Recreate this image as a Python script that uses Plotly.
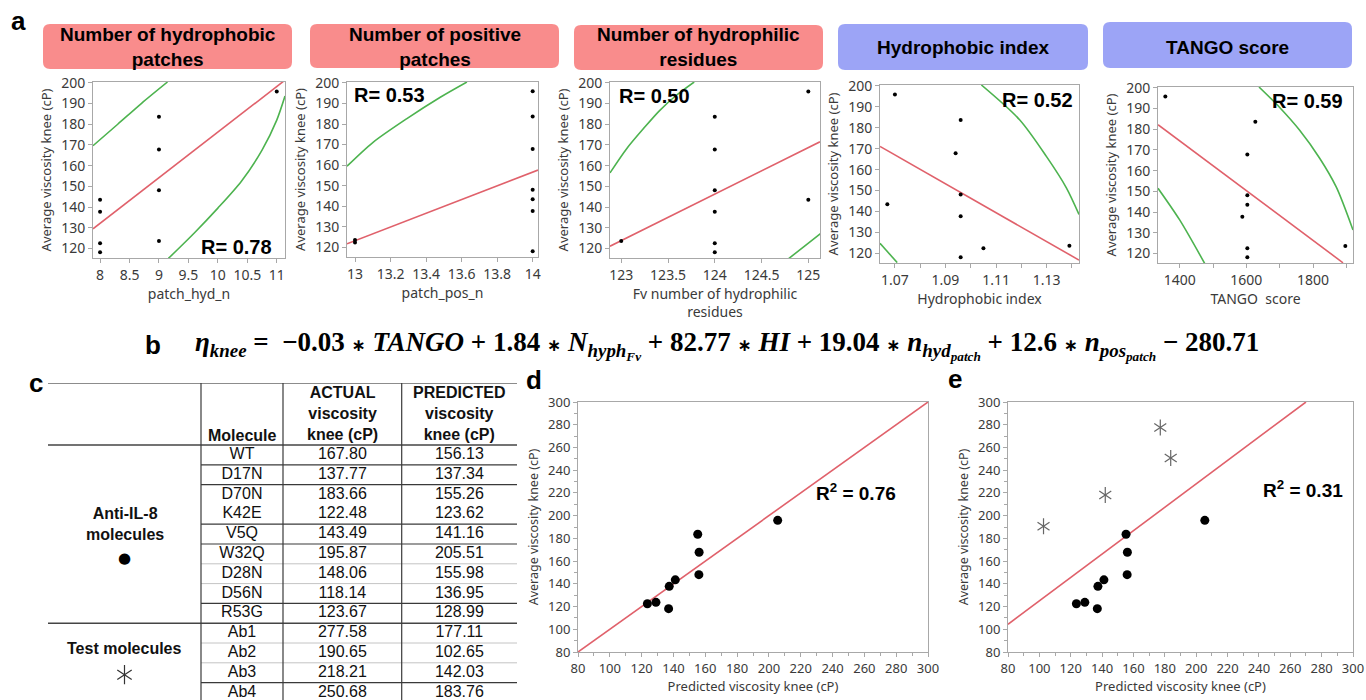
import plotly.graph_objects as go

W, H = 1366, 700

# ---------------- data ----------------
molecules = ["WT", "D17N", "D70N", "K42E", "V5Q", "W32Q", "D28N", "D56N", "R53G"]
actual_knee = [167.80, 137.77, 183.66, 122.48, 143.49, 195.87, 148.06, 118.14, 123.67]
predicted_knee = [156.13, 137.34, 155.26, 123.62, 141.16, 205.51, 155.98, 136.95, 128.99]
test_molecules = ["Ab1", "Ab2", "Ab3", "Ab4"]
test_actual = [277.58, 190.65, 218.21, 250.68]
test_predicted = [177.11, 102.65, 142.03, 183.76]

patch_hyd_n = [9, 8, 9, 8, 8, 11, 9, 8, 9]
patch_pos_n = [14, 14, 14, 13, 14, 14, 14, 14, 13]
fv_hydrophilic = [124, 124, 124, 124, 125, 125, 124, 124, 123]
hydrophobic_index = [1.094, 1.096, 1.096, 1.105, 1.067, 1.070, 1.096, 1.096, 1.139]
tango_score = [1603, 1588, 1627, 1603, 1603, 1357, 1603, 1603, 1897]

# fit lines (red)
fit_hyd_x = [7.88, 11.14]
fit_hyd_y = [129.5, 201.3]
fit_pos_x = [12.955, 14.03]
fit_pos_y = [121.8, 157.6]
fit_phil_x = [122.88, 125.125]
fit_phil_y = [121.1, 171.5]
fit_hi_x = [1.0641, 1.1428]
fit_hi_y = [171.1, 116.8]
fit_tango_x = [1335, 1890]
fit_tango_y = [182.2, 115.5]

# confidence curves (green)
conf_hyd_up_x = [7.88, 8.3, 8.7, 9.145]
conf_hyd_up_y = [169.6, 180.0, 190.0, 200.4]
conf_hyd_lo_x = [9.16, 9.6, 10.0, 10.4, 10.75, 11.0, 11.14]
conf_hyd_lo_y = [115.2, 127.5, 139.5, 152.5, 167.5, 182.0, 193.6]
conf_pos_up_x = [12.955, 13.10, 13.29, 13.48, 13.63]
conf_pos_up_y = [159.5, 171.0, 182.5, 193.0, 200.4]
conf_phil_up_x = [122.88, 123.06, 123.24, 123.41, 123.59, 123.78]
conf_phil_up_y = [156.5, 168.3, 178.0, 186.6, 194.0, 200.4]
conf_phil_lo_x = [124.79, 124.95, 125.13]
conf_phil_lo_y = [115.1, 120.8, 127.2]
conf_hi_up_x = [1.1042, 1.1193, 1.1299, 1.1378, 1.1428]
conf_hi_up_y = [200.4, 183.8, 166.3, 151.3, 138.6]
conf_hi_lo_x = [1.0641, 1.0709]
conf_hi_lo_y = [124.8, 115.6]
conf_tango_up_x = [1638, 1700, 1760, 1820, 1870, 1920]
conf_tango_up_y = [200.4, 190.5, 179.5, 166.0, 152.0, 131.3]
conf_tango_lo_x = [1335, 1400, 1475]
conf_tango_lo_y = [151.5, 136.2, 115.2]

# parity lines (red) in d and e
parity_d_x = [80, 300]
parity_d_y = [80, 300]
parity_e_x = [80, 270]
parity_e_y = [104.4, 300]

panel_titles = ["Number of hydrophobic<br>patches", "Number of positive<br>patches",
                "Number of hydrophilic<br>residues", "Hydrophobic index", "TANGO score"]
x_titles = ["patch_hyd_n", "patch_pos_n", "Fv number of hydrophilic<br>residues",
            "Hydrophobic index", "TANGO  score"]
r_labels = ["R= 0.78", "R= 0.53", "R= 0.50", "R= 0.52", "R= 0.59"]
r2_labels = ["R<sup>2</sup> = 0.76", "R<sup>2</sup> = 0.31"]
y_title = "Average viscosity knee (cP)"
xy_title_de = "Predicted viscosity knee (cP)"

table_header = ["", "Molecule", "ACTUAL<br>viscosity<br>knee (cP)", "PREDICTED<br>viscosity<br>knee (cP)"]
group_labels = ["Anti-IL-8<br>molecules", "Test molecules"]
group_dot = "\u25CF"

# ---------------- style / layout helpers ----------------
PINK = "#F98C8C"
BLUE = "#9CA4F6"
RED = "#E0616B"
GREEN = "#4DB34F"
TICKF = "Noto Sans"
ARIAL = "Liberation Sans, Arial"


def px_x(x):
    return x / W


def px_y(y):
    return 1 - y / H


def ax_style(size=14):
    return dict(showline=True, linecolor="#a8a8a8", linewidth=1, mirror=True,
                ticks="outside", ticklen=4, tickcolor="#a8a8a8", showgrid=False,
                zeroline=False, ticklabeloverflow="allow",
                tickfont=dict(family=TICKF, size=size, color="#3a3a3a"))


fig = go.Figure()

# panel a subplots
a_boxes = [(93, 285, 82, 258), (347, 538, 82, 257), (610, 820, 82, 258),
           (880, 1079, 85, 263), (1158, 1353, 87, 263)]
a_xranges = [[7.88, 11.14], [12.955, 14.03], [122.88, 125.125], [1.0641, 1.1428], [1335, 1920]]
a_xdata = [patch_hyd_n, patch_pos_n, fv_hydrophilic, hydrophobic_index, tango_score]
a_fits = [(fit_hyd_x, fit_hyd_y), (fit_pos_x, fit_pos_y), (fit_phil_x, fit_phil_y),
          (fit_hi_x, fit_hi_y), (fit_tango_x, fit_tango_y)]
a_confs = [[(conf_hyd_up_x, conf_hyd_up_y), (conf_hyd_lo_x, conf_hyd_lo_y)],
           [(conf_pos_up_x, conf_pos_up_y)],
           [(conf_phil_up_x, conf_phil_up_y), (conf_phil_lo_x, conf_phil_lo_y)],
           [(conf_hi_up_x, conf_hi_up_y), (conf_hi_lo_x, conf_hi_lo_y)],
           [(conf_tango_up_x, conf_tango_up_y), (conf_tango_lo_x, conf_tango_lo_y)]]
MINOR_A = dict(ticklen=4, tickcolor="#a8a8a8", ticks="outside", showgrid=False)
a_xticks = [dict(tickvals=[8, 8.5, 9, 9.5, 10, 10.5, 11]),
            dict(tickvals=[13, 13.2, 13.4, 13.6, 13.8, 14]),
            dict(tickvals=[123, 123.5, 124, 124.5, 125]),
            dict(tick0=1.07, dtick=0.02, tickformat=".2f", minor=dict(tick0=1.07, dtick=0.01, **MINOR_A)),
            dict(tick0=1400, dtick=200, minor=dict(tick0=1400, dtick=100, **MINOR_A))]

layout = dict(width=W, height=H, margin=dict(l=0, r=0, t=0, b=0, autoexpand=False),
              paper_bgcolor="white", plot_bgcolor="white", showlegend=False)
shapes = []
annotations = []

for i in range(5):
    n = "" if i == 0 else str(i + 1)
    xa, ya = "x" + n, "y" + n
    x0, x1, y0, y1 = a_boxes[i]
    xs = ax_style(14)
    xs.update(domain=[px_x(x0), px_x(x1)], range=a_xranges[i], anchor=ya,
              title=dict(text=x_titles[i], font=dict(family=TICKF, size=14, color="#3a3a3a"), standoff=3))
    xs.update(a_xticks[i])
    ys = ax_style(14)
    ys.update(domain=[px_y(y1), px_y(y0)], range=[115.4, 200.4], anchor=xa,
              tickvals=[120, 130, 140, 150, 160, 170, 180, 190, 200],
              title=dict(text=y_title, font=dict(family=TICKF, size=13, color="#3a3a3a"), standoff=6))
    layout["xaxis" + n] = xs
    layout["yaxis" + n] = ys
    for cx, cy in a_confs[i]:
        fig.add_trace(go.Scatter(x=cx, y=cy, mode="lines",
                                 line=dict(color=GREEN, width=1.6, shape="spline", smoothing=0.8),
                                 xaxis=xa, yaxis=ya, hoverinfo="skip"))
    fx, fy = a_fits[i]
    fig.add_trace(go.Scatter(x=fx, y=fy, mode="lines", line=dict(color=RED, width=1.6),
                             xaxis=xa, yaxis=ya, hoverinfo="skip"))
    fig.add_trace(go.Scatter(x=a_xdata[i], y=actual_knee, mode="markers",
                             marker=dict(color="black", size=4), xaxis=xa, yaxis=ya,
                             hovertext=molecules))

# title boxes
t_boxes = [(43, 292, 24, 69), (310, 559, 24, 68), (574, 823, 25, 70), (838, 1088, 24, 70), (1103, 1352, 22, 68)]
t_colors = [PINK, PINK, PINK, BLUE, BLUE]


def rrect(x0, x1, y0, y1, r=7):
    X = lambda v: "%.5f" % px_x(v)
    Y = lambda v: "%.5f" % px_y(v)
    return ("M {a},{b} L {c},{b} Q {d},{b} {d},{e} L {d},{f} Q {d},{g} {c},{g} L {a},{g} "
            "Q {h},{g} {h},{f} L {h},{e} Q {h},{b} {a},{b} Z").format(
        a=X(x0 + r), b=Y(y0), c=X(x1 - r), d=X(x1), e=Y(y0 + r), f=Y(y1 - r), g=Y(y1), h=X(x0))


for i in range(5):
    x0, x1, y0, y1 = t_boxes[i]
    shapes.append(dict(type="path", path=rrect(x0, x1, y0, y1), xref="paper", yref="paper",
                       fillcolor=t_colors[i], line=dict(width=0), layer="below"))
    annotations.append(dict(text="<b>" + panel_titles[i] + "</b>", xref="paper", yref="paper",
                            x=px_x((x0 + x1) / 2), y=px_y(47), xanchor="center",
                            yanchor="middle", showarrow=False,
                            font=dict(family=ARIAL, size=19, color="black")))

# R labels
r_pos = [(236, 247), (389, 95), (654, 96), (1037, 100), (1307, 101)]
for i in range(5):
    annotations.append(dict(text="<b>" + r_labels[i] + "</b>", xref="paper", yref="paper",
                            x=px_x(r_pos[i][0]), y=px_y(r_pos[i][1]), xanchor="center", yanchor="middle",
                            showarrow=False, font=dict(family=ARIAL, size=20, color="black")))

# panels d and e
de_boxes = [(578, 928, 402, 652), (1008, 1353, 402, 652)]
for j, n in enumerate(["6", "7"]):
    x0, x1, y0, y1 = de_boxes[j]
    xs = ax_style(13)
    xs.update(domain=[px_x(x0), px_x(x1)], range=[80, 300], anchor="y" + n, dtick=20, tick0=0,
              minor=dict(dtick=10, tick0=0, ticklen=3, tickcolor="#a8a8a8", ticks="outside"),
              title=dict(text=xy_title_de, font=dict(family=TICKF, size=13, color="#3a3a3a"), standoff=3))
    ys = ax_style(13)
    ys.update(domain=[px_y(y1), px_y(y0)], range=[80, 300], anchor="x" + n, dtick=20, tick0=0,
              minor=dict(dtick=10, tick0=0, ticklen=3, tickcolor="#a8a8a8", ticks="outside"),
              title=dict(text=y_title, font=dict(family=TICKF, size=12.5, color="#3a3a3a"), standoff=6))
    layout["xaxis" + n] = xs
    layout["yaxis" + n] = ys

fig.add_trace(go.Scatter(x=parity_d_x, y=parity_d_y, mode="lines", line=dict(color=RED, width=1.6),
                         xaxis="x6", yaxis="y6", hoverinfo="skip"))
fig.add_trace(go.Scatter(x=predicted_knee, y=actual_knee, mode="markers", hovertext=molecules,
                         marker=dict(color="black", size=9), xaxis="x6", yaxis="y6"))
fig.add_trace(go.Scatter(x=parity_e_x, y=parity_e_y, mode="lines", line=dict(color=RED, width=1.6),
                         xaxis="x7", yaxis="y7", hoverinfo="skip"))
fig.add_trace(go.Scatter(x=predicted_knee, y=actual_knee, mode="markers", hovertext=molecules,
                         marker=dict(color="black", size=9), xaxis="x7", yaxis="y7"))
for sym in ["y-up-open", "y-down-open"]:
    fig.add_trace(go.Scatter(x=test_predicted, y=test_actual, mode="markers", hovertext=test_molecules,
                             marker=dict(symbol=sym, size=10, color="#666666",
                                         line=dict(color="#666666", width=1.2)),
                             xaxis="x7", yaxis="y7"))

r2_pos = [(856, 492), (1303, 489)]
for j in range(2):
    annotations.append(dict(text="<b>" + r2_labels[j] + "</b>", xref="paper", yref="paper",
                            x=px_x(r2_pos[j][0]), y=px_y(r2_pos[j][1]), xanchor="center", yanchor="middle",
                            showarrow=False, font=dict(family=ARIAL, size=19, color="black")))

# ---------------- table (panel c) ----------------
ROW_H = 19.8
T_TOP, T_HDR, T_BOT = 383, 445, 700
col_edges = [0, 153, 235, 353.7, 469]
col_c = [(col_edges[k] + col_edges[k + 1]) / 2 for k in range(4)]
layout["xaxis8"] = dict(domain=[px_x(48), px_x(517)], range=[0, 469], visible=False, anchor="y8")
layout["yaxis8"] = dict(domain=[0, px_y(T_TOP)], range=[(T_BOT - T_HDR) / ROW_H, -(T_HDR - T_TOP) / ROW_H],
                        visible=False, anchor="x8")
ytop = -(T_HDR - T_TOP) / ROW_H
ybot = (T_BOT - T_HDR) / ROW_H

all_names = molecules + test_molecules
all_actual = ["%.2f" % v for v in actual_knee + test_actual]
all_pred = ["%.2f" % v for v in predicted_knee + test_predicted]
rows_y = [k + 0.5 for k in range(len(all_names))]
for k, col in enumerate([all_names, all_actual, all_pred]):
    fig.add_trace(go.Scatter(x=[col_c[k + 1]] * len(col), y=rows_y, mode="text", text=col,
                             textposition="middle center", cliponaxis=False,
                             textfont=dict(family=ARIAL, size=16, color="#111111"),
                             xaxis="x8", yaxis="y8", hoverinfo="skip"))

annotations.append(dict(text="<b>Molecule</b>", xref="x8", yref="y8", x=col_c[1], y=-0.5,
                        showarrow=False, font=dict(family=ARIAL, size=16, color="#111111")))
for k in [2, 3]:
    annotations.append(dict(text="<b>" + table_header[k] + "</b>", xref="x8", yref="y8", x=col_c[k], y=-1.57,
                            showarrow=False, font=dict(family=ARIAL, size=16, color="#111111")))
annotations.append(dict(text="<b>" + group_labels[0] + "</b>", xref="x8", yref="y8", x=col_c[0], y=4.0,
                        showarrow=False, font=dict(family=ARIAL, size=16, color="#111111")))
annotations.append(dict(text=group_dot, xref="x8", yref="y8", x=col_c[0], y=5.7,
                        showarrow=False, font=dict(family="DejaVu Sans", size=15, color="black")))
annotations.append(dict(text="<b>" + group_labels[1] + "</b>", xref="x8", yref="y8", x=col_c[0], y=10.3,
                        showarrow=False, font=dict(family=ARIAL, size=16, color="#111111")))
# asterisk symbol of the test-molecule group (same glyph as the markers in panel e)
for sym in ["y-up-open", "y-down-open"]:
    fig.add_trace(go.Scatter(x=[col_c[0]], y=[11.6], mode="markers", cliponaxis=False,
                             marker=dict(symbol=sym, size=12, color="#333333",
                                         line=dict(color="#333333", width=1.2)),
                             xaxis="x8", yaxis="y8", hoverinfo="skip"))

# table lines
def hline(y, xa, xb, color="#3a3a3a", w=1.2):
    shapes.append(dict(type="line", xref="x8", yref="y8", x0=xa, x1=xb, y0=y, y1=y,
                       line=dict(color=color, width=w)))


hline(ytop, 0, 469, "#666666", 1.5)
hline(0, 0, 469, "#444444", 1.5)
hline(9, 0, 469, "#444444", 1.5)
for k in [1, 2, 4, 5, 8, 12]:
    hline(k, 153, 469)
for k in [6, 7, 10, 11]:
    hline(k, 153, 469, "#c4c4c4", 1)
for xe in col_edges[1:4]:
    shapes.append(dict(type="line", xref="x8", yref="y8", x0=xe, x1=xe, y0=ytop, y1=ybot,
                       line=dict(color="#3a3a3a", width=1.2)))

# panel letters
for lab, (lx, ly) in zip(["a", "c", "d", "e", "b"], [(18, 21), (36, 383), (534, 380), (955, 379), (153, 345)]):
    annotations.append(dict(text="<b>" + lab + "</b>", xref="paper", yref="paper", x=px_x(lx), y=px_y(ly),
                            xanchor="center", yanchor="middle", showarrow=False,
                            font=dict(family=ARIAL, size=26, color="black")))

# equation (b)
ST = '<span style="font-family:DejaVu Sans;font-size:17px">\u2217</span>'
SP = "\u00a0"
eq = ("<b><i>η</i><sub><i>knee</i></sub>" + SP + "=" + SP + SP + "−0.03" + SP + ST + SP + "<i>TANGO</i>" + SP + "+" + SP
      + "1.84" + SP + ST + SP + "<i>N</i><sub><i>hyph</i><sub><i>Fv</i></sub></sub>" + SP + "+" + SP
      + "82.77" + SP + ST + SP + "<i>HI</i>" + SP + "+" + SP + "19.04" + SP + ST + SP
      + "<i>n</i><sub><i>hyd</i><sub><i>patch</i></sub></sub>" + SP + "+" + SP + "12.6" + SP + ST + SP
      + "<i>n</i><sub><i>pos</i><sub><i>patch</i></sub></sub>" + SP + "−" + SP + "280.71</b>")
annotations.append(dict(text=eq, xref="paper", yref="paper", x=px_x(193), y=px_y(345),
                        xanchor="left", yanchor="middle", showarrow=False,
                        font=dict(family="Liberation Serif", size=27, color="black")))

layout["shapes"] = shapes
layout["annotations"] = annotations
fig.update_layout(**layout)
fig.write_html("out.html", post_script="document.body.style.margin='0';document.body.style.overflow='hidden';")
